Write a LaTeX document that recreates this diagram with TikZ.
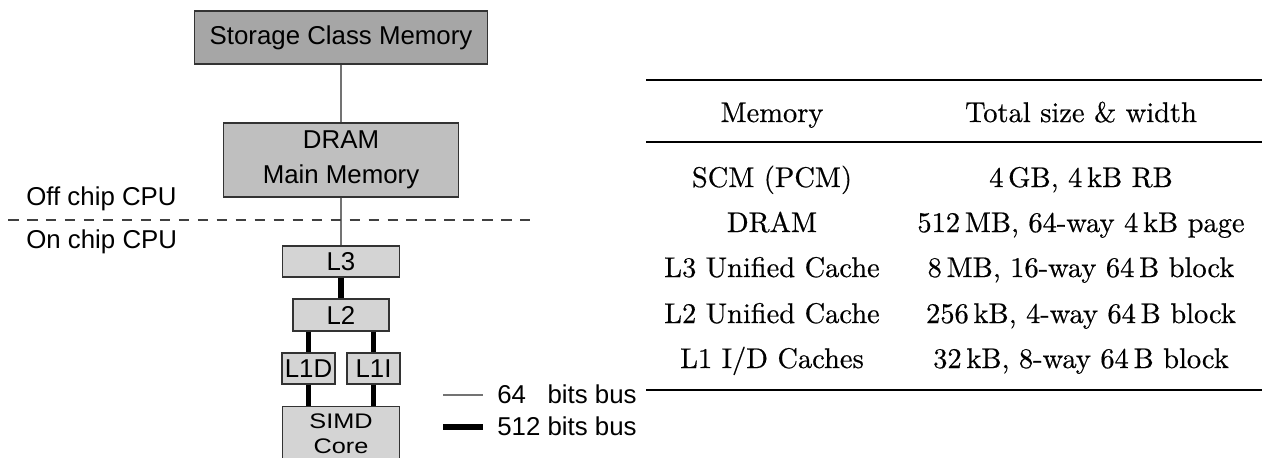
\documentclass[tikz,border=0pt]{standalone}
\usepackage{fontspec}
\usepackage{xcolor}
\usepackage{tikz}
\newfontfamily\helv{Liberation Sans}
\newfontfamily\helvwide{Liberation Sans}[FakeStretch=1.2]
\newfontfamily\tabfont{lmroman10-regular.otf}[FakeBold=0.5]
\definecolor{scmgray}{HTML}{A6A6A6}
\definecolor{dramgray}{HTML}{BFBFBF}
\definecolor{cachegray}{HTML}{D4D4D4}
\tikzstyle{membox}=[rectangle, draw=black!80, line width=0.7pt, inner sep=0pt,% boxes of the hierarchy
align=center, font=\helv\fontsize{14.7}{19.9}\selectfont]
\tikzstyle{bus64}=[draw=black!55, line width=0.9pt]
\tikzstyle{bus512}=[draw=black, line width=2.9pt]
\tikzstyle{cut}=[draw=black!75, line width=0.8pt, dash pattern=on 6pt off 4.8pt]
\tikzstyle{lbl}=[anchor=base west, inner sep=0pt, font=\helv\fontsize{14.7}{17}\selectfont]
\tikzstyle{tabtxt}=[anchor=base, inner sep=0pt, font=\tabfont\fontsize{16.2}{19}\selectfont]
\tikzstyle{rule}=[line width=1.5pt]

\begin{document}
\begin{tikzpicture}[x=0.02cm, y=-0.02cm]
\useasboundingbox (0,0) rectangle (1262,457);
% hierarchy
\node[membox, fill=scmgray, minimum width=5.86cm, minimum height=1.06cm] (SCM) at (341,37.5) {Storage Class Memory};
\node[membox, fill=dramgray, minimum width=4.7cm, minimum height=1.48cm] (DRAM) at (341,160) {DRAM\\Main Memory};
\node[membox, fill=cachegray, minimum width=2.34cm, minimum height=0.62cm] (L3) at (341,261.5) {L3};
\node[membox, fill=cachegray, minimum width=1.92cm, minimum height=0.64cm] (L2) at (341,315) {L2};
\node[membox, fill=cachegray, minimum width=1.06cm, minimum height=0.62cm] (L1D) at (308.5,368.5) {L1D};
\node[membox, fill=cachegray, minimum width=1.06cm, minimum height=0.62cm] (L1I) at (373.5,368.5) {L1I};
\node[membox, fill=cachegray, minimum width=2.34cm, anchor=north, inner ysep=0.14cm, text depth=0.6cm,
  font=\helvwide\fontsize{12}{14.2}\selectfont] (SIMD) at (341,406) {SIMD\\Core};
\draw[bus64] (SCM) -- (DRAM);
\draw[bus64] (DRAM) -- (L3);
\draw[bus512] (L3) -- (L2);
\draw[bus512] (L2.south -| L1D) -- (L1D);
\draw[bus512] (L2.south -| L1I) -- (L1I);
\draw[bus512] (L1D) -- (L1D |- SIMD.north);
\draw[bus512] (L1I) -- (L1I |- SIMD.north);
% chip border
\coordinate (cutL) at (8,220);
\coordinate (cutR) at (530,220);
\draw[cut] (cutL) -- (cutR);
\node[lbl] (offchip) at (26,205) {Off chip CPU};
\node[lbl] (onchip) at (26,248) {On chip CPU};
% legend
\node[lbl] (leg64) at (497,403) {64\hphantom{0} bits bus};
\node[lbl] (leg512) at (497,435) {512 bits bus};
\coordinate (leg64a) at (443,395);
\coordinate (leg512a) at (443,427);
\draw[bus64] (leg64a) -- (leg64a -| 483,0);
\draw[bus512] (leg512a) -- (leg512a -| 483,0);
% table
\draw[rule] (646,80) -- (1262,80);
\draw[line width=0.95pt] (646,142) -- (1262,142);
\draw[rule] (646,390) -- (1262,390);
\node[tabtxt] (hMem) at (772,122) {Memory};
\node[tabtxt] (hSize) at (1081,122) {Total size \& width};
\node[tabtxt] (mSCM) at (772,187) {SCM (PCM)};
\node[tabtxt] (sSCM) at (1081,187) {4\,GB, 4\,kB RB};
\node[tabtxt] (mDRAM) at (772,232) {DRAM};
\node[tabtxt] (sDRAM) at (1081,232) {512\,MB, 64-way 4\,kB page};
\node[tabtxt] (mL3) at (772,277) {L3 Unified Cache};
\node[tabtxt] (sL3) at (1081,277) {8\,MB, 16-way 64\,B block};
\node[tabtxt] (mL2) at (772,323) {L2 Unified Cache};
\node[tabtxt] (sL2) at (1081,323) {256\,kB, 4-way 64\,B block};
\node[tabtxt] (mL1) at (772,368) {L1 I/D Caches};
\node[tabtxt] (sL1) at (1081,368) {32\,kB, 8-way 64\,B block};
\end{tikzpicture}
\end{document}
